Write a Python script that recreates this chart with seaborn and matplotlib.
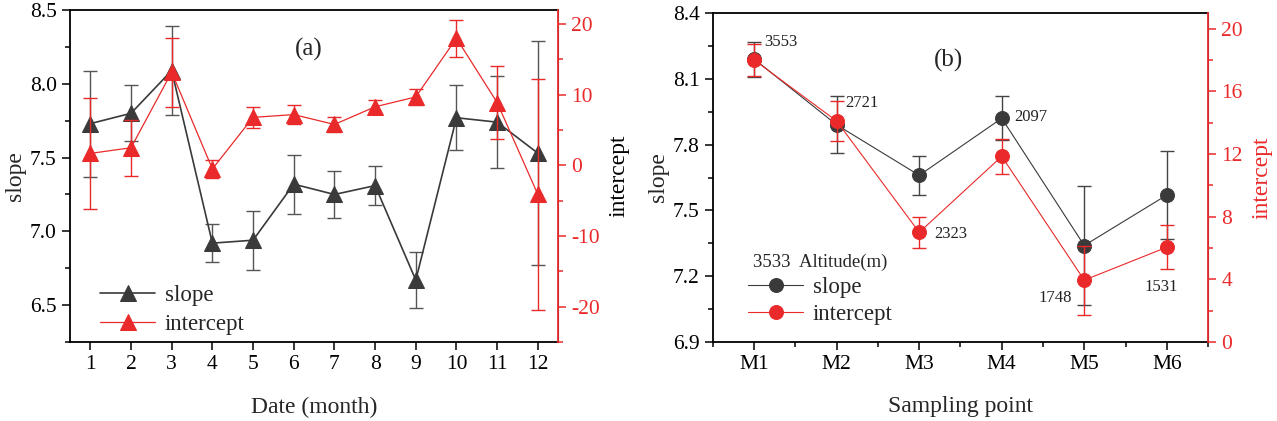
import numpy as np
import pandas as pd
import matplotlib
matplotlib.use("Agg")
import matplotlib.pyplot as plt
import seaborn as sns
from matplotlib.ticker import MultipleLocator, AutoMinorLocator

# (a) monthly values
months = [1, 2, 3, 4, 5, 6, 7, 8, 9, 10, 11, 12]
slope_a = [7.73, 7.80, 8.09, 6.92, 6.94, 7.32, 7.25, 7.31, 6.67, 7.77, 7.74, 7.53]
slope_a_err = [0.36, 0.19, 0.30, 0.13, 0.20, 0.20, 0.16, 0.13, 0.19, 0.22, 0.31, 0.76]
intercept_a = [1.7, 2.5, 13.2, -0.5, 6.8, 7.2, 5.8, 8.3, 9.7, 18.0, 8.9, -4.1]
intercept_a_err = [7.8, 4.0, 4.9, 1.3, 1.5, 1.4, 1.1, 1.0, 1.1, 2.6, 5.2, 16.4]

# (b) sampling points
sites = ["M1", "M2", "M3", "M4", "M5", "M6"]
slope_b = [8.19, 7.89, 7.66, 7.92, 7.34, 7.57]
slope_b_err = [0.08, 0.13, 0.09, 0.10, 0.27, 0.20]
intercept_b = [18.0, 14.1, 7.0, 11.85, 3.95, 6.05]
intercept_b_err = [1.0, 1.3, 1.0, 1.1, 2.2, 1.4]
altitudes = [3553, 2721, 2323, 2097, 1748, 1531]

sns.set_style("ticks")
plt.rcParams['font.family'] = ['Liberation Serif', 'DejaVu Serif']
plt.rcParams['axes.unicode_minus'] = False

BLACK = '#3a3a3a'
RED = '#ea2a2a'
TICK_FS = 15.5
LABEL_FS = 17

fig = plt.figure(figsize=(12.77, 4.21), dpi=100)


def style_axes(ax, axr):
    for s in ['left', 'top', 'bottom']:
        ax.spines[s].set_color('black')
        ax.spines[s].set_linewidth(1.3)
    axr.spines['right'].set_color(RED)
    axr.spines['right'].set_linewidth(1.3)
    for s in ['left', 'top', 'bottom']:
        axr.spines[s].set_visible(False)
    ax.tick_params(axis='both', which='both', direction='out', labelsize=TICK_FS, width=1.1, colors='black')
    ax.tick_params(which='major', length=6)
    ax.tick_params(which='minor', length=3.5)
    # top ticks pointing inward through the twin axes
    axr.tick_params(axis='x', which='both', top=True, bottom=False, labeltop=False, labelbottom=False, direction='in', width=1.1)
    axr.tick_params(axis='x', which='major', length=6)
    axr.tick_params(axis='x', which='minor', length=3.5)
    axr.tick_params(axis='y', which='both', direction='out', colors=RED, labelsize=TICK_FS, width=1.1)
    axr.tick_params(axis='y', which='major', length=6)
    axr.tick_params(axis='y', which='minor', length=3.5)
    ax.yaxis.set_minor_locator(AutoMinorLocator(2))
    axr.yaxis.set_minor_locator(AutoMinorLocator(2))


# ---------------- panel (a) ----------------
ax1 = fig.add_axes([0.0548, 0.1876, 0.3823, 0.7886])
ax1r = ax1.twinx()
df_a = pd.DataFrame({'month': months, 'slope': slope_a, 'intercept': intercept_a})

ax1.errorbar(months, slope_a, yerr=slope_a_err, fmt='none', ecolor='#555555', elinewidth=1, capsize=5, capthick=1)
sns.lineplot(data=df_a, x='month', y='slope', ax=ax1, color=BLACK, marker='^', markersize=12,
             markeredgecolor=BLACK, linewidth=1.2, label='slope', legend=False)
ax1r.errorbar(months, intercept_a, yerr=intercept_a_err, fmt='none', ecolor=RED, elinewidth=1, capsize=5, capthick=1)
sns.lineplot(data=df_a, x='month', y='intercept', ax=ax1r, color=RED, marker='^', markersize=12,
             markeredgecolor=RED, linewidth=0.9, label='intercept', legend=False)

ax1.set_xlim(0.5, 12.5)
ax1.set_ylim(6.25, 8.5)
ax1r.set_ylim(-25, 22)
ax1.set_xticks(months)
ax1.yaxis.set_major_locator(MultipleLocator(0.5))
ax1r.yaxis.set_major_locator(MultipleLocator(10))
style_axes(ax1, ax1r)
ax1.set_xlabel('Date (month)', fontsize=LABEL_FS, labelpad=16)
ax1.set_ylabel('slope', fontsize=LABEL_FS, labelpad=3)
ax1r.set_ylabel('intercept', fontsize=LABEL_FS, color='black', labelpad=6)
ax1.text(0.49, 0.88, '(a)', transform=ax1.transAxes, fontsize=18, ha='center', va='center')

h1, l1 = ax1.get_legend_handles_labels()
h2, l2 = ax1r.get_legend_handles_labels()
ax1r.legend(h1 + h2, l1 + l2, loc='lower left', bbox_to_anchor=(0.02, -0.04), frameon=False,
            fontsize=16.5, handlelength=2.4, handletextpad=0.4, labelspacing=0.35)

# ---------------- panel (b) ----------------
ax2 = fig.add_axes([0.5583, 0.1876, 0.3877, 0.7815])
ax2r = ax2.twinx()
pos = np.arange(len(sites))
df_b = pd.DataFrame({'pos': pos, 'slope': slope_b, 'intercept': intercept_b})

ax2.errorbar(pos, slope_b, yerr=slope_b_err, fmt='none', ecolor='#444444', elinewidth=1, capsize=5, capthick=1)
sns.lineplot(data=df_b, x='pos', y='slope', ax=ax2, color=BLACK, marker='o', markersize=10,
             markeredgecolor=BLACK, linewidth=0.8, label='slope', legend=False)
ax2r.errorbar(pos, intercept_b, yerr=intercept_b_err, fmt='none', ecolor=RED, elinewidth=1, capsize=5, capthick=1)
sns.lineplot(data=df_b, x='pos', y='intercept', ax=ax2r, color=RED, marker='o', markersize=10,
             markeredgecolor=RED, linewidth=0.8, label='intercept', legend=False)

ax2.set_xlim(-0.5, 5.5)
ax2.set_ylim(6.9, 8.4)
ax2r.set_ylim(0, 21)
ax2.set_xticks(pos)
ax2.set_xticklabels(sites)
ax2.xaxis.set_minor_locator(MultipleLocator(0.5))
ax2.yaxis.set_major_locator(MultipleLocator(0.3))
ax2r.yaxis.set_major_locator(MultipleLocator(4))
style_axes(ax2, ax2r)
ax2.set_xlabel('Sampling point', fontsize=LABEL_FS, labelpad=16)
ax2.set_ylabel('slope', fontsize=LABEL_FS, labelpad=3)
ax2r.set_ylabel('intercept', fontsize=LABEL_FS, color=RED, labelpad=6)
ax2.text(0.475, 0.855, '(b)', transform=ax2.transAxes, fontsize=18, ha='center', va='center')

# altitude labels next to the points
offsets = [(7, 12, 'left'), (6, 16, 'left'), (11, -42, 'left'), (9, 1, 'left'), (-9, -38, 'right'), (-4, -66, 'center')]
for x, y, alt, (dx, dy, ha) in zip(pos, slope_b, altitudes, offsets):
    ax2.annotate(str(alt), (x, y), xytext=(dx, dy), textcoords='offset points',
                 ha=ha, va='center', fontsize=12, color='#222222')

h1, l1 = ax2.get_legend_handles_labels()
h2, l2 = ax2r.get_legend_handles_labels()
leg = ax2r.legend(h1 + h2, l1 + l2, loc='lower left', bbox_to_anchor=(0.03, -0.01), frameon=False,
                  fontsize=16.5, handlelength=2.4, handletextpad=0.4, labelspacing=0.25,
                  title='3533  Altitude(m)', title_fontsize=13.5)

fig.savefig('out.png', dpi=100)
